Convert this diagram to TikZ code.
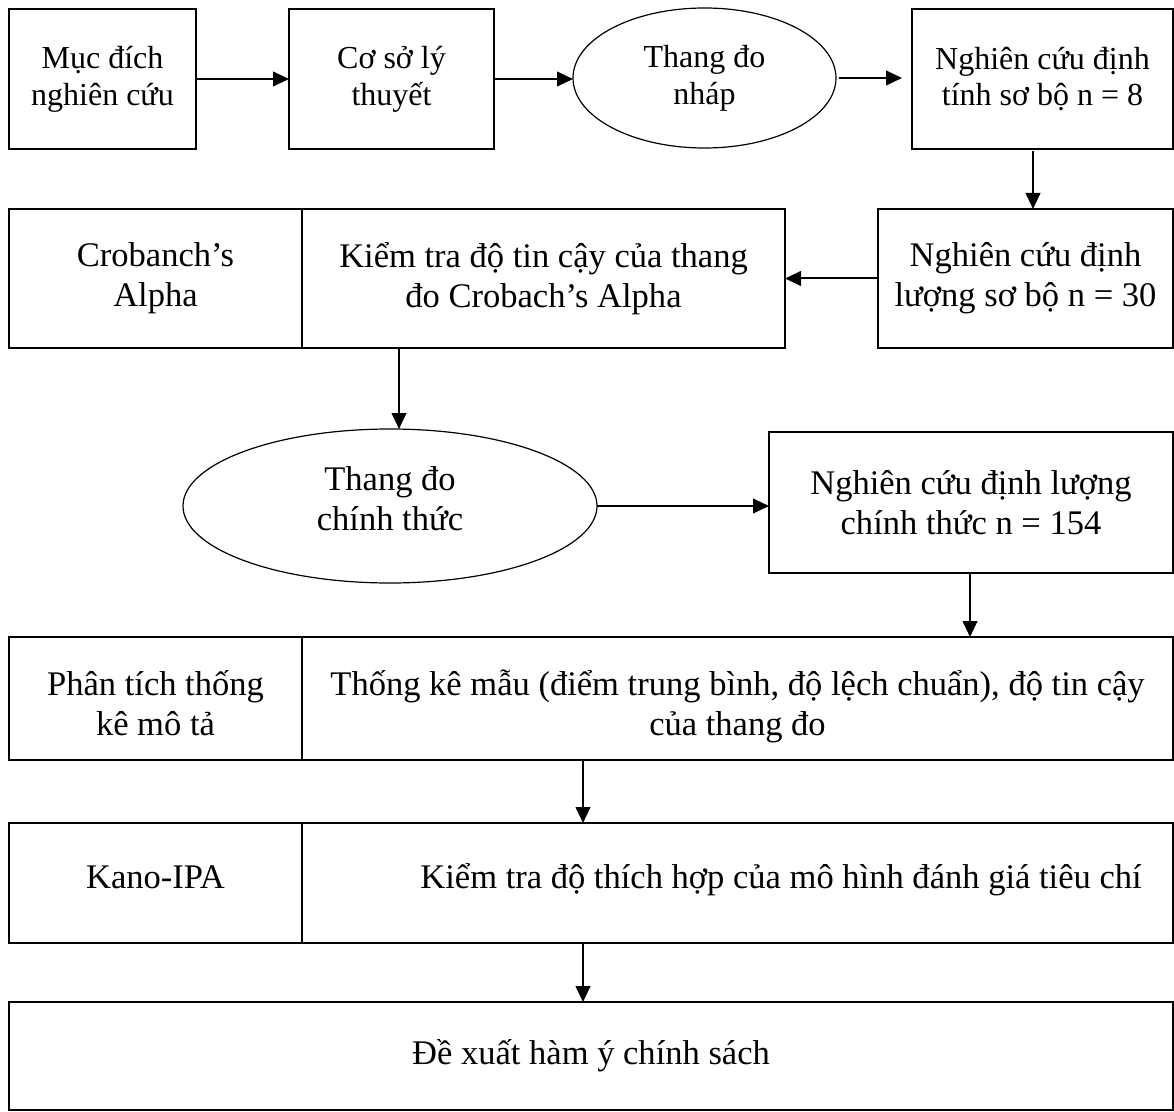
\documentclass[tikz,border=0pt]{standalone}
\usepackage{fontspec}
\setmainfont{Liberation Serif}
\usetikzlibrary{arrows.meta,shapes.geometric}
\begin{document}
\begin{tikzpicture}[x=0.75pt,y=-0.75pt,
  box/.style={draw,line width=1pt,inner sep=0pt,outer sep=0pt,align=center,
    font=\fontsize{25.9pt}{30pt}\selectfont},
  toprow/.style={font=\fontsize{24pt}{27.6pt}\selectfont},
  oval/.style={box,ellipse,line width=0.9pt},
  flow/.style={line width=1.5pt,-{Triangle[length=12pt,width=11pt]}},
]
\fill[white] (0,0) rectangle (1174,1112);
\useasboundingbox (0,0) rectangle (1174,1112);

% first row
\node[box,toprow,minimum width=140.25pt,minimum height=105pt] (muc) at (102.5,79) {Mục đích\\nghiên cứu};
\node[box,toprow,minimum width=153.75pt,minimum height=105pt] (coso) at (391.5,79) {Cơ sở lý\\thuyết};
\node[oval,toprow,minimum width=197.25pt,minimum height=105pt] (nhap) at (704.5,78) {Thang đo\\nháp};
\node[box,toprow,minimum width=195.75pt,minimum height=105pt] (dinhtinh) at (1042.5,79) {Nghiên cứu định\\tính sơ bộ n = 8};

% second row
\node[box,minimum width=221.25pt,minimum height=104.25pt] (soboluong) at (1025.5,278.5) {Nghiên cứu định\\lượng sơ bộ n = 30};
\node[box,minimum width=219.75pt,minimum height=104.25pt] (alpha) at (155.5,278.5) {Crobanch’s\\Alpha};
\node[box,minimum width=362.25pt,minimum height=104.25pt] (kiemdinh) at (543.5,278.5) {Kiểm tra độ tin cậy của thang\\đo Crobach’s Alpha};

% third row
\node[oval,minimum width=310.5pt,minimum height=115.5pt,text height=36pt,text depth=0pt] (chinhthuc) at (390,506) {Thang đo\\chính thức};
\node[box,minimum width=303pt,minimum height=105.75pt] (dinhluong) at (971,502.5) {Nghiên cứu định lượng\\chính thức n = 154};

% analysis rows
\node[box,minimum width=219.75pt,minimum height=92.25pt,text height=54.75pt,text depth=0pt] (phantich) at (155.5,698.5) {Phân tích thống\\kê mô tả};
\node[box,minimum width=653.25pt,minimum height=92.25pt,text height=54.75pt,text depth=0pt] (thongke) at (737.5,698.5) {Thống kê mẫu (điểm trung bình, độ lệch chuẩn), độ tin cậy\\của thang đo};
\node[box,minimum width=219.75pt,minimum height=90pt,text height=7.5pt,text depth=0pt] (kano) at (155.5,883) {Kano-IPA};
\node[box,minimum width=653.25pt,minimum height=90pt] (thichhop) at (737.5,883) {};
\node[font=\fontsize{25.9pt}{30pt}\selectfont,inner sep=0pt,anchor=base] (thichhoptext) at (781,888) {Kiểm tra độ thích hợp của mô hình đánh giá tiêu chí};
\node[box,minimum width=873pt,minimum height=81pt] (dexuat) at (591,1056) {Đề xuất hàm ý chính sách};

% x positions of the vertical connectors
\coordinate (xa) at (1033,0);
\coordinate (xb) at (399,0);
\coordinate (xc) at (970,0);
\coordinate (xd) at (583,0);

% connectors
\draw[flow] (muc.east) -- (coso.west);
\draw[flow] (coso.east) -- (coso.east -| nhap.west);
\draw[flow,shorten <=2pt,shorten >=7.5pt] (nhap.east) -- (nhap.east -| dinhtinh.west);
\draw[flow,shorten <=1.5pt] (dinhtinh.south -| xa) -- (soboluong.north -| xa);
\draw[flow] (soboluong.west) -- (kiemdinh.east);
\draw[flow] (kiemdinh.south -| xb) -- (xb |- chinhthuc.north);
\draw[flow] (chinhthuc.east) -- (chinhthuc.east -| dinhluong.west);
\draw[flow] (dinhluong.south -| xc) -- (thongke.north -| xc);
\draw[flow] (thongke.south -| xd) -- (thichhop.north -| xd);
\draw[flow] (thichhop.south -| xd) -- (dexuat.north -| xd);
\end{tikzpicture}
\end{document}
